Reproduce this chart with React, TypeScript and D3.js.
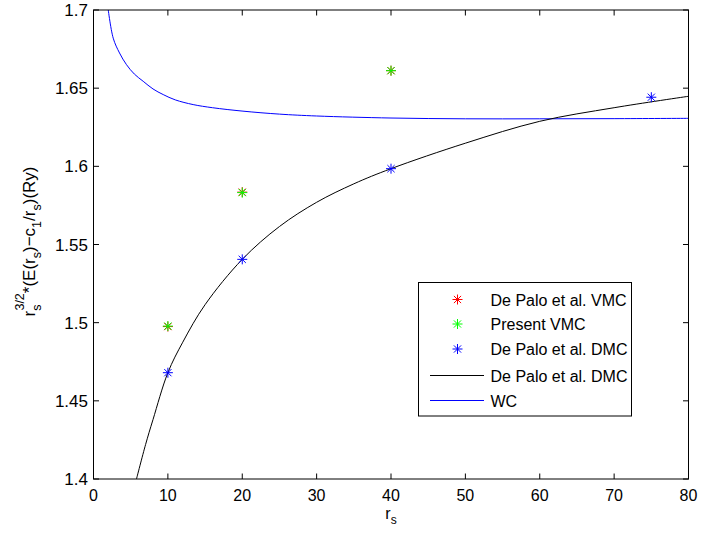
import React from "react";
import * as d3 from "d3";

const xTicks = [0, 10, 20, 30, 40, 50, 60, 70, 80];
const yTicks = [1.4, 1.45, 1.5, 1.55, 1.6, 1.65, 1.7];
const yTickLabels = ["1.4", "1.45", "1.5", "1.55", "1.6", "1.65", "1.7"];

const vmcPaloRs = [10, 20, 40];
const vmcPaloE = [1.4975, 1.5835, 1.6612];
const vmcPresentRs = [10, 20, 40];
const vmcPresentE = [1.4978, 1.5832, 1.6612];
const dmcPaloRs = [10, 20, 40, 75];
const dmcPaloE = [1.468, 1.5405, 1.5985, 1.6442];

const fitRs = [5.78, 7, 8, 10, 12, 15, 20, 25, 30, 35, 40, 50, 60, 70, 80];
const fitE = [1.4, 1.422, 1.438, 1.468, 1.4875, 1.5115, 1.5405, 1.5615, 1.577, 1.5888, 1.5985, 1.6148, 1.6288, 1.6375, 1.6448];

const wcRs = [1.9, 2.65, 3.5, 4.44, 5.5, 6.68, 8, 9.37, 11, 13.4, 16, 20.1, 25, 30, 40, 50, 60, 70, 80];
const wcE = [1.703, 1.682, 1.6725, 1.665, 1.659, 1.6544, 1.6495, 1.6459, 1.6425, 1.6395, 1.6375, 1.6353, 1.6334, 1.6322, 1.6309, 1.6304, 1.6304, 1.6305, 1.6307];

const legendLabels = ["De Palo et al. VMC", "Present VMC", "De Palo et al. DMC", "De Palo et al. DMC", "WC"];

const W = 701;
const H = 539;
const L = 93.5;
const R = 688.5;
const T = 10;
const B = 479;
const FONT = "'Liberation Sans', Arial, Helvetica, sans-serif";

function Star({ x, y, color }: { x: number; y: number; color: string }) {
  const a = 5;
  const d = 3.6;
  return (
    <g stroke={color} strokeWidth={1}>
      <line x1={x - a} y1={y} x2={x + a} y2={y} />
      <line x1={x} y1={y - a} x2={x} y2={y + a} />
      <line x1={x - d} y1={y - d} x2={x + d} y2={y + d} />
      <line x1={x - d} y1={y + d} x2={x + d} y2={y - d} />
    </g>
  );
}

export default function App() {
  const x = d3.scaleLinear().domain([0, 80]).range([L, R]);
  const y = d3.scaleLinear().domain([1.4, 1.7]).range([B, T]);

  const line = d3
    .line<[number, number]>()
    .x((d) => x(d[0]))
    .y((d) => y(d[1]))
    .curve(d3.curveCatmullRom.alpha(0.5));

  const fitPath = line(fitRs.map((r, i) => [r, fitE[i]] as [number, number])) || "";
  const wcPath = line(wcRs.map((r, i) => [r, wcE[i]] as [number, number])) || "";

  const legX = 418.5;
  const legY = 282.5;
  const legW = 213;
  const legH = 133.5;
  const rowY = [299.5, 324, 349, 375.5, 400.5];

  return (
    <svg width={W} height={H} style={{ position: "absolute", left: 0, top: 0, background: "#fff" }} fontFamily={FONT}>
      <rect x={0} y={0} width={W} height={H} fill="#fff" />
      <defs>
        <clipPath id="plot">
          <rect x={L} y={T} width={R - L} height={B - T} />
        </clipPath>
      </defs>

      <g clipPath="url(#plot)" fill="none">
        <path d={wcPath} stroke="#0000ff" strokeWidth={1} />
        <path d={fitPath} stroke="#000" strokeWidth={1} />
      </g>

      {vmcPaloRs.map((r, i) => (
        <Star key={"r" + i} x={x(r)} y={y(vmcPaloE[i])} color="#ff0000" />
      ))}
      {vmcPresentRs.map((r, i) => (
        <Star key={"g" + i} x={x(r)} y={y(vmcPresentE[i])} color="#00ff00" />
      ))}
      {dmcPaloRs.map((r, i) => (
        <Star key={"b" + i} x={x(r)} y={y(dmcPaloE[i])} color="#0000ff" />
      ))}

      <rect x={L} y={T} width={R - L} height={B - T} fill="none" stroke="#000" strokeWidth={1} />

      {xTicks.map((t) => (
        <g key={"xt" + t}>
          <line x1={x(t)} x2={x(t)} y1={B} y2={B - 5.5} stroke="#000" />
          <line x1={x(t)} x2={x(t)} y1={T} y2={T + 5.5} stroke="#000" />
          <text x={x(t)} y={500.5} fontSize={16} textAnchor="middle" fill="#000">
            {t}
          </text>
        </g>
      ))}
      {yTicks.map((t, i) => (
        <g key={"yt" + t}>
          <line x1={L} x2={L + 5.5} y1={y(t)} y2={y(t)} stroke="#000" />
          <line x1={R} x2={R - 5.5} y1={y(t)} y2={y(t)} stroke="#000" />
          <text x={88} y={y(t) + 6} fontSize={17} textAnchor="end" fill="#000">
            {yTickLabels[i]}
          </text>
        </g>
      ))}

      <text x={391} y={519} fontSize={16} textAnchor="middle" fill="#000">
        r<tspan fontSize={12} dy={5}>s</tspan>
      </text>

      <text
        transform={`translate(34.5,${(T + B) / 2 - 3}) rotate(-90)`}
        fontSize={17}
        textAnchor="middle"
        fill="#000"
      >
        r<tspan fontSize={12.5} dy={6}>s</tspan>
        <tspan fontSize={12.5} dx={-6} dy={-17}>3/2</tspan>
        <tspan dy={11}>*(E(r</tspan>
        <tspan fontSize={12.5} dy={6}>s</tspan>
        <tspan dy={-6}>)−c</tspan>
        <tspan fontSize={12.5} dy={6}>1</tspan>
        <tspan dy={-6}>/r</tspan>
        <tspan fontSize={12.5} dy={6}>s</tspan>
        <tspan dy={-6}>)(Ry)</tspan>
      </text>

      <rect x={legX} y={legY} width={legW} height={legH} fill="#fff" stroke="#000" strokeWidth={1} />
      <Star x={457.5} y={rowY[0]} color="#ff0000" />
      <Star x={457.5} y={rowY[1]} color="#00ff00" />
      <Star x={457.5} y={rowY[2]} color="#0000ff" />
      <line x1={430} x2={484} y1={rowY[3]} y2={rowY[3]} stroke="#000" />
      <line x1={430} x2={484} y1={rowY[4]} y2={rowY[4]} stroke="#0000ff" />
      {legendLabels.map((s, i) => (
        <text key={"lg" + i} x={490.5} y={rowY[i] + 6} fontSize={16} fill="#000">
          {s}
        </text>
      ))}
    </svg>
  );
}
